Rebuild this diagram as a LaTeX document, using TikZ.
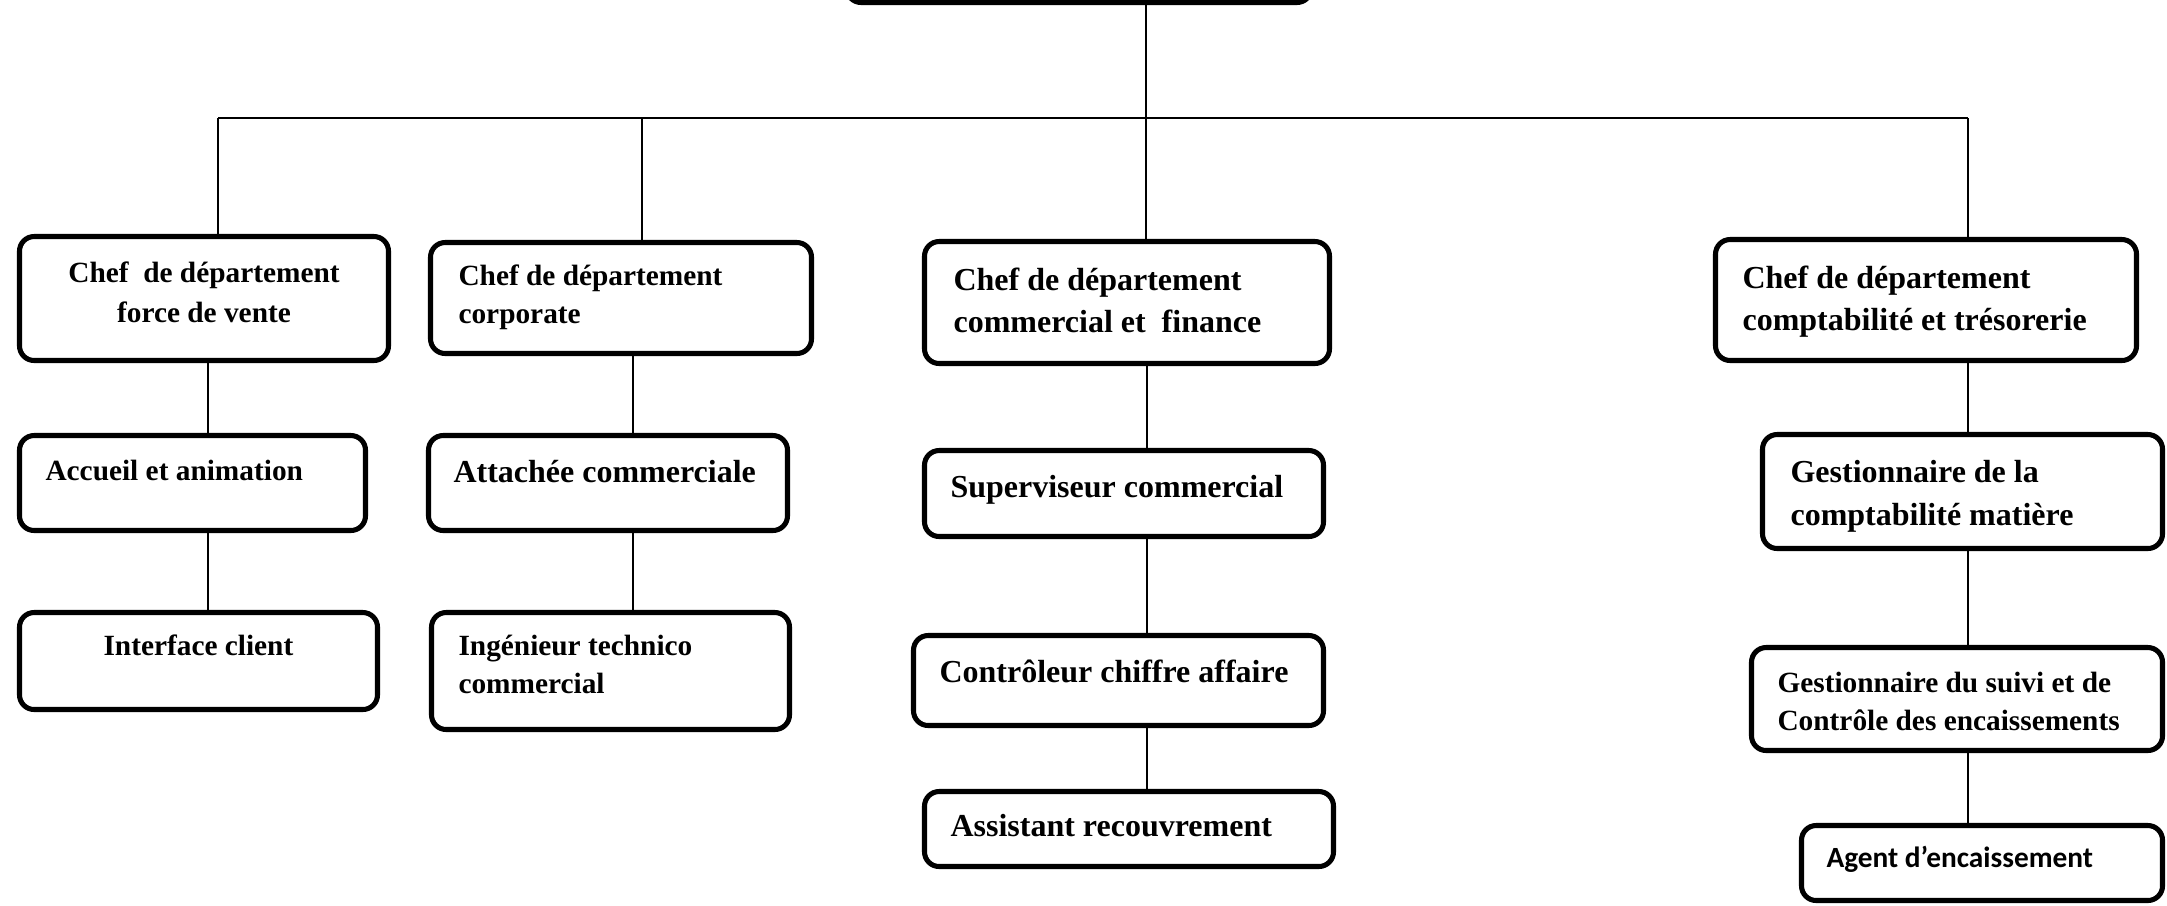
\documentclass[tikz,border=0pt]{standalone}
\usepackage{fontspec}
\setmainfont{Liberation Serif}
\newfontfamily\calibfont{Carlito}
\newcommand\orgbox[5]{\node[box, minimum width=#4*0.375pt, minimum height=#5*0.375pt] (#1) at (#2,#3) {};}
\begin{document}
\begin{tikzpicture}[x=0.375pt,y=-0.375pt,
  box/.style={draw, line width=1.9pt, rounded corners=5.5pt, inner sep=0pt, fill=white},
  conn/.style={line width=0.6pt},
  lbl/.style={inner sep=0pt, anchor=base west, align=left, font=\bfseries\fontsize{12}{15.75}\selectfont},
  lblsm/.style={lbl, font=\bfseries\fontsize{11}{15}\selectfont}]
\useasboundingbox (0,0) rectangle (2167,905);
\clip (0,0) rectangle (2167,905);
\fill[white] (0,0) rectangle (2167,905);

% junction coordinates
\coordinate (jT) at (1146,118);
\coordinate (jA) at (218,118);
\coordinate (jB) at (642,118);
\coordinate (jD) at (1968,118);
\coordinate (cA) at (208,0);
\coordinate (cB) at (633,0);
\coordinate (cC) at (1147,0);
\coordinate (cD) at (1968,0);

% boxes
\orgbox{top}{1079}{-50}{465}{105}
\orgbox{A}{204}{298.5}{369}{124}
\orgbox{B}{621}{298}{381}{111}
\orgbox{C}{1127}{302.5}{405}{122}
\orgbox{D}{1926}{300}{421}{121}
\orgbox{acc}{192.5}{483}{346}{95}
\orgbox{att}{608}{483}{359}{95}
\orgbox{itf}{198.5}{661}{358}{97}
\orgbox{ing}{610.5}{671}{358}{117}
\orgbox{sup}{1124}{493.5}{399}{86}
\orgbox{ctr}{1118.5}{680.5}{410}{90}
\orgbox{ast}{1129}{829}{409}{75}
\orgbox{gla}{1962.5}{491.5}{400}{114}
\orgbox{gsu}{1957}{699}{411}{103}
\orgbox{agt}{1982}{863}{361}{75}

% connectors
\draw[conn] (top.south -| jT) -- (C.north -| jT);
\draw[conn] (jA) -- (jD);
\draw[conn] (jA) -- (A.north -| jA);
\draw[conn] (jB) -- (B.north -| jB);
\draw[conn] (jD) -- (D.north -| jD);
\draw[conn] (A.south -| cA) -- (acc.north -| cA);
\draw[conn] (acc.south -| cA) -- (itf.north -| cA);
\draw[conn] (B.south -| cB) -- (att.north -| cB);
\draw[conn] (att.south -| cB) -- (ing.north -| cB);
\draw[conn] (C.south -| cC) -- (sup.north -| cC);
\draw[conn] (sup.south -| cC) -- (ctr.north -| cC);
\draw[conn] (ctr.south -| cC) -- (ast.north -| cC);
\draw[conn] (D.south -| cD) -- (gla.north -| cD);
\draw[conn] (gla.south -| cD) -- (gsu.north -| cD);
\draw[conn] (gsu.south -| cD) -- (agt.north -| cD);

% labels (multi-line labels are anchored at the baseline of their last line)
\node[lblsm, anchor=base, align=center] (tA) at (204,322) {Chef\ \ de département\\force de vente};
\node[lblsm, font=\bfseries\fontsize{11}{14.25}\selectfont] (tB) at (458,323) {Chef de département\\corporate};
\node[lbl] (tC) at (953,332) {Chef de département\\commercial et\ \ finance};
\node[lbl] (tD) at (1742,330) {Chef de département\\comptabilité et trésorerie};
\node[lblsm] (tacc) at (45,480) {Accueil et animation};
\node[lbl] (tatt) at (453,482) {Attachée commerciale};
\node[lblsm] (titf) at (103,655) {Interface client};
\node[lblsm, font=\bfseries\fontsize{11}{14.25}\selectfont] (ting) at (458,693) {Ingénieur technico\\commercial};
\node[lbl] (tsup) at (950,497) {Superviseur commercial};
\node[lbl] (tctr) at (939,682) {Contrôleur chiffre affaire};
\node[lbl] (tast) at (950,836) {Assistant recouvrement};
\node[lbl, font=\bfseries\fontsize{12}{16.1}\selectfont] (tgla) at (1790,525) {Gestionnaire de la\\comptabilité matière};
\node[lblsm, font=\bfseries\fontsize{11}{13.9}\selectfont] (tgsu) at (1777,730) {Gestionnaire du suivi et de\\Contrôle des encaissements};
\node[lbl, font=\calibfont\bfseries\fontsize{11}{13}\selectfont] (tagt) at (1826,867) {Agent d’encaissement};
\end{tikzpicture}
\end{document}
